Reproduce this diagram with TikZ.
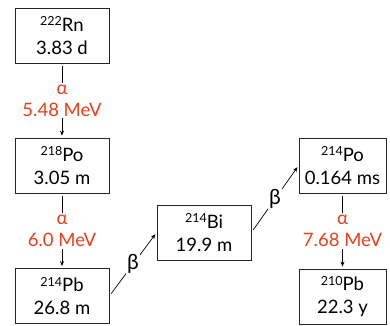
\documentclass[tikz,border=0pt]{standalone}
\usepackage{fontspec}
\setmainfont{Lato}
\usetikzlibrary{arrows.meta}
\definecolor{decayred}{RGB}{232,64,28}
\newcommand{\iso}[2]{\raisebox{0.55ex}{\fontsize{12.5}{12}\selectfont #1}#2}
\begin{document}
\begin{tikzpicture}[x=1pt,y=-1pt,
  box/.style={draw=black!85, line width=0.8pt, minimum height=55pt, align=center,
    inner sep=0pt, font=\fontsize{18.5}{23}\selectfont},
  wide/.style={minimum width=94pt},
  narrow/.style={minimum width=87pt},
  decay/.style={line width=0.7pt, -{Stealth[length=5pt,width=4pt]}, shorten <=3pt, shorten >=2pt},
  alphalab/.style={fill=white, text=decayred, align=center, inner sep=2pt,
    font=\fontsize{18.5}{22}\selectfont},
  betalab/.style={fill=white, inner sep=1pt, font=\fontsize{21}{22}\selectfont}]
\useasboundingbox (0,0) rectangle (390,325);
\node[box,wide] (rn) at (62,35.5) {\iso{222}{Rn}\\3.83 d};
\node[box,wide] (po218) at (62,165.5) {\iso{218}{Po}\\3.05 m};
\node[box,wide] (pb214) at (62,296) {\iso{214}{Pb}\\26.8 m};
\node[box,wide] (bi) at (204,232.5) {\iso{214}{Bi}\\19.9 m};
\node[box,narrow] (po214) at (342.5,165.5) {\iso{214}{Po}\\0.164 ms};
\node[box,narrow] (pb210) at (342.5,296.5) {\iso{210}{Pb}\\22.3 y};
\draw[decay] (rn) -- node[alphalab] {α\\5.48 MeV} (po218);
\draw[decay] (po218) -- node[alphalab] {α\\6.0 MeV} (pb214);
\draw[decay] (po214) -- node[alphalab] {α\\7.68 MeV} (pb210);
\draw[decay] (pb214.east) -- node[betalab] {β} (bi.west);
\draw[decay] (bi.east) -- node[betalab] {β} (po214.west);
\end{tikzpicture}
\end{document}
